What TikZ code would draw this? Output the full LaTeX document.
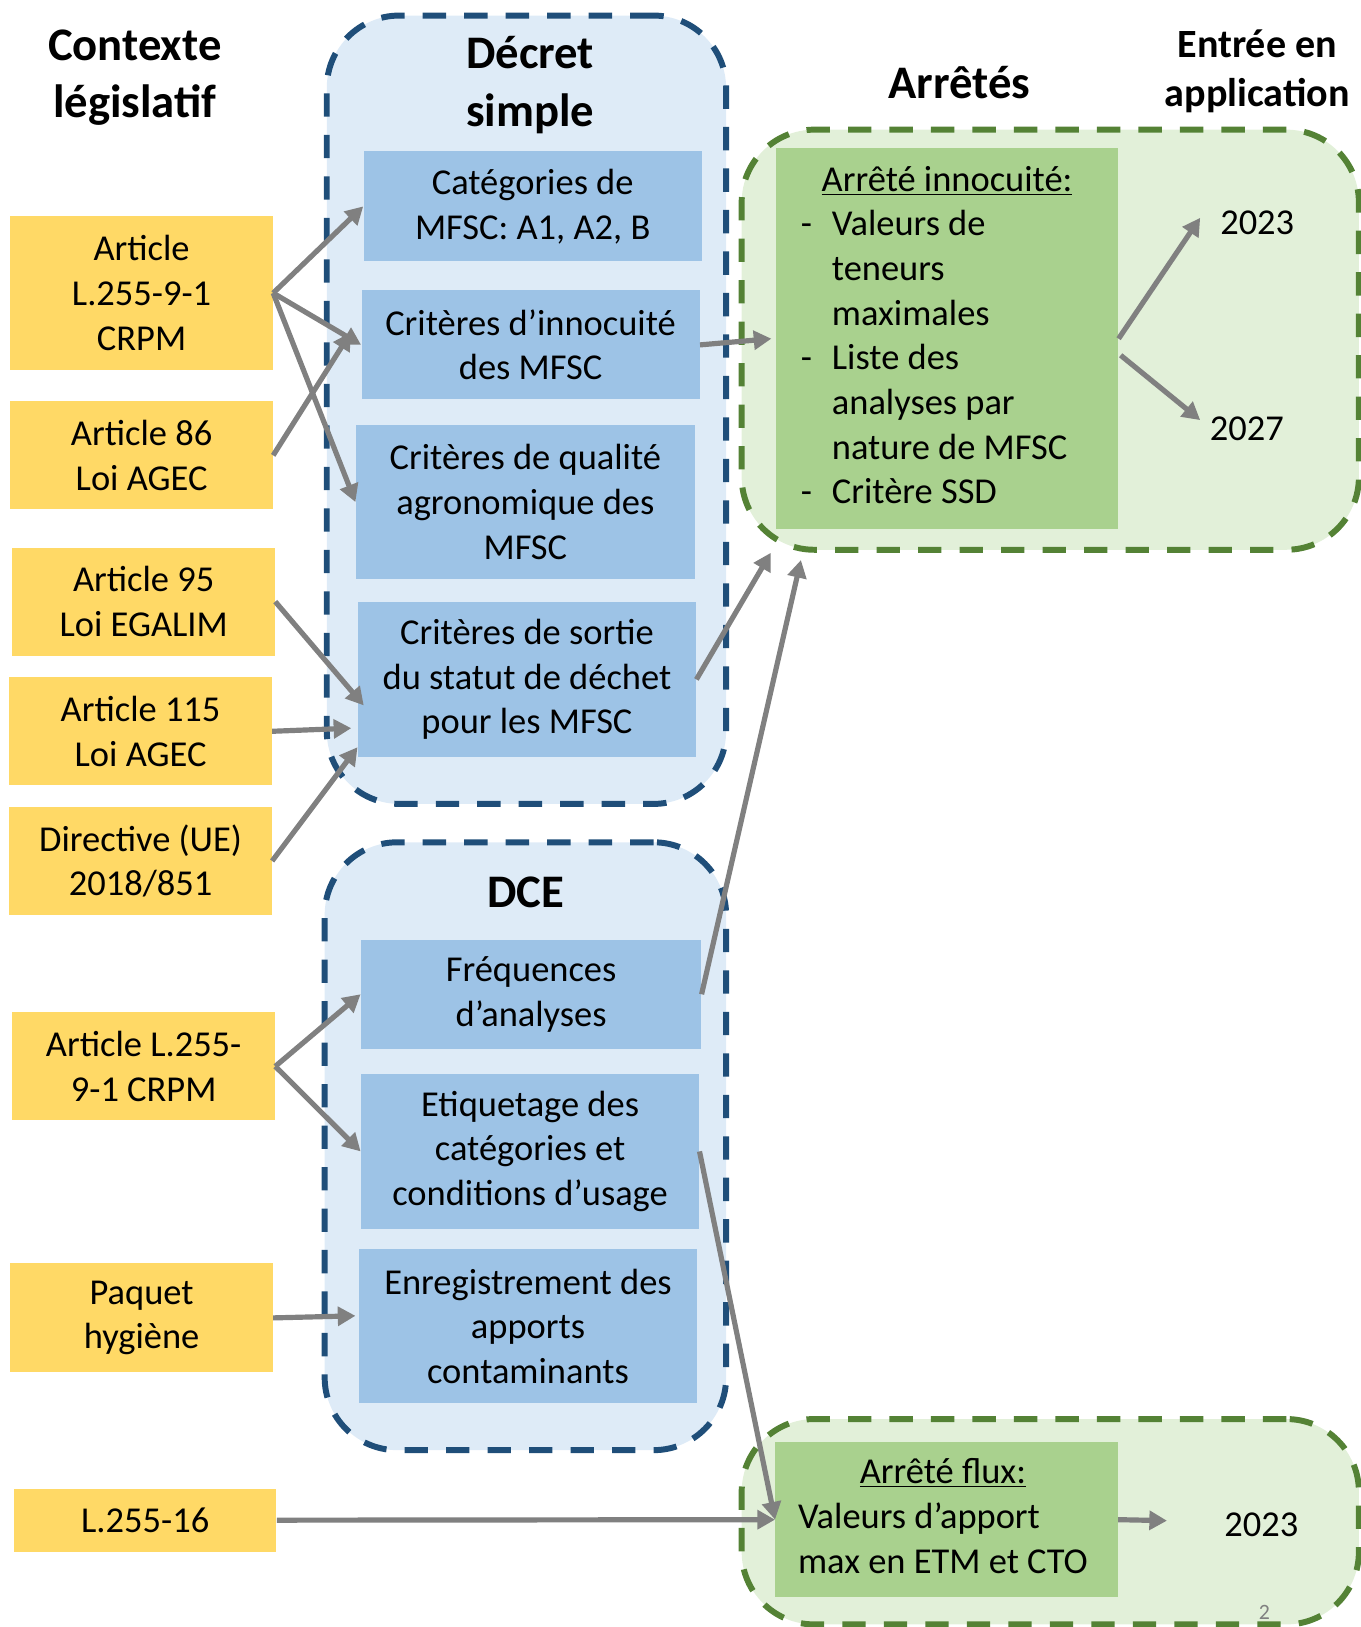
\documentclass[tikz,border=0pt]{standalone}
\usepackage{fontspec}
\setmainfont{Carlito}
\usetikzlibrary{arrows.meta,calc}

\definecolor{lawyellow}{RGB}{255,217,102}
\definecolor{mfscblue}{RGB}{157,195,230}
\definecolor{groupblue}{RGB}{222,235,247}
\definecolor{edgeblue}{RGB}{31,78,121}
\definecolor{arrgreen}{RGB}{169,209,142}
\definecolor{groupgreen}{RGB}{226,240,217}
\definecolor{edgegreen}{RGB}{84,130,53}
\definecolor{arrowgray}{RGB}{128,128,128}

\tikzset{
  txt/.style={font=\fontsize{20pt}{24.5pt}\selectfont},
  hdr/.style={font=\fontsize{25.6pt}{31.3pt}\selectfont\bfseries, align=center},
  law/.style={txt, fill=lawyellow, minimum width=50.6mm, align=center, inner sep=0pt},
  mfsc/.style={txt, fill=mfscblue, minimum width=65.2mm, align=center, inner sep=0pt},
  arrbox/.style={txt, fill=arrgreen, minimum width=66mm, inner sep=0pt},
  grpblue/.style={draw=edgeblue, fill=groupblue, line width=1.15mm, dash pattern=on 4.5mm off 3.5mm, rounded corners=14mm},
  grpgreen/.style={draw=edgegreen, fill=groupgreen, line width=1.15mm, dash pattern=on 4.5mm off 3.5mm, rounded corners=14mm},
  arr/.style={draw=arrowgray, line width=1mm, -{Triangle[length=3.4mm,width=3.6mm]}}
}

\begin{document}
\begin{tikzpicture}[x=0.2mm, y=-0.2mm]
\useasboundingbox (0,0) rectangle (1312,1568.5);

% groups
\node[grpblue, minimum width=77mm, minimum height=152mm] (decret) at (507.5,395) {};
\node[grpblue, minimum width=77.4mm, minimum height=117.2mm] (dce) at (506.5,1105) {};
\node[grpgreen, minimum width=119mm, minimum height=81mm] (grpinno) at (1012.5,327.5) {};
\node[grpgreen, minimum width=119mm, minimum height=39.6mm] (grpflux) at (1012.5,1467) {};

% headings
\node[hdr] (hctx) at (130,75) {Contexte\\législatif};
\node[hdr] (hdec) at (511,82) {Décret\\simple};
\node[hdr] (harr) at (925,80) {Arrêtés};
\node[hdr, font=\fontsize{22pt}{27pt}\selectfont\bfseries] (happ) at (1212,69) {Entrée en\\application};
\node[hdr] (hdce) at (507,860) {DCE};

% legislative context
\node[law, minimum height=29.8mm] (lg1) at (136.5,282.5) {Article\\L.255-9-1\\CRPM};
\node[law, minimum height=20.8mm] (lg2) at (136.5,439) {Article 86\\Loi AGEC};
\node[law, minimum height=20.8mm] (lg3) at (138.5,580) {Article 95\\Loi EGALIM};
\node[law, minimum height=20.8mm] (lg4) at (135.5,705) {Article 115\\Loi AGEC};
\node[law, minimum height=20.8mm] (lg5) at (135.5,830) {Directive (UE)\\2018/851};
\node[law, minimum height=20.8mm] (lg6) at (138.5,1028) {Article L.255-\\9-1 CRPM};
\node[law, minimum height=21mm] (lg7) at (136.5,1270.5) {Paquet\\hygiène};
\node[law, minimum height=12.2mm] (lg8) at (140,1465.5) {L.255-16};

% decret / DCE items
\node[mfsc, minimum height=21.2mm] (cat) at (513.5,199) {Catégories de\\MFSC: A1, A2, B};
\node[mfsc, minimum height=21mm] (inno) at (511.5,332.5) {Critères d’innocuité\\des MFSC};
\node[mfsc, minimum height=29.6mm, minimum width=65.4mm] (qual) at (506.5,484) {Critères de qualité\\agronomique des\\MFSC};
\node[mfsc, minimum height=30mm] (sortie) at (508,655) {Critères de sortie\\du statut de déchet\\pour les MFSC};
\node[mfsc, minimum height=21mm, minimum width=65.6mm] (freq) at (512,958.5) {Fréquences\\d’analyses};
\node[mfsc, minimum height=30mm] (etiq) at (511,1110) {Etiquetage des\\catégories et\\conditions d’usage};
\node[mfsc, minimum height=29.8mm] (enreg) at (509,1278.5) {Enregistrement des\\apports\\contaminants};

% arretes
\node[arrbox, minimum height=73.4mm] (innoc) at (913,326.5) {\begin{tabular}{@{}p{6mm}@{}p{50.4mm}@{}}
\multicolumn{2}{@{}c@{}}{\underline{Arrêté innocuité:}}\\
- & Valeurs de\\
  & teneurs\\
  & maximales\\
- & Liste des\\
  & analyses par\\
  & nature de MFSC\\
- & Critère SSD
\end{tabular}};
\node[arrbox, minimum height=30mm] (flux) at (912.5,1465) {\begin{tabular}{@{}l@{\hspace{1.4mm}}}
\multicolumn{1}{@{}c@{\hspace{1.4mm}}}{\underline{Arrêté flux:}}\\
Valeurs d’apport\\
max en ETM et CTO
\end{tabular}};

% years
\node[txt, inner sep=0pt] (y2023a) at (1212,215) {2023};
\node[txt, inner sep=0pt] (y2027) at (1202,413) {2027};
\node[txt, inner sep=0pt] (y2023b) at (1216,1470) {2023};
\node[font=\fontsize{12pt}{14pt}\selectfont, text=arrowgray, inner sep=0pt] (pnum) at (1219,1554) {2};

% arrows
\draw[arr] (lg1.east) -- (cat.west);
\draw[arr] (lg1.east) -- (inno.west);
\draw[arr] (lg1.east) -- (qual.west);
\draw[arr] (lg2.east) -- ($(inno.west)+(-10,-12)$);
\draw[arr] (lg3.east) -- ($(sortie.west)+(6,25)$);
\draw[arr] (lg4.east) -- ($(sortie.west)+(-6,47)$);
\draw[arr] (lg5.east) -- ($(sortie.south west)+(0,-10)$);
\draw[arr] (lg6.east) -- (freq.west);
\draw[arr] (lg6.east) -- (etiq.west);
\draw[arr] (lg7.east) -- ($(enreg.west)+(-3,-10)$);
\draw[arr] (lg8.east) -- (flux.west);
\draw[arr] (inno.east) -- ($(innoc.west)+(-4,0)$);
\draw[arr] (sortie.east) -- ($(grpinno.south west)+(31,0)$);
\draw[arr] (freq.east) -- ($(grpinno.south west)+(60,7)$);
\draw[arr] (etiq.east) -- (flux.west);
\draw[arr] (innoc.east) -- ($(y2023a.west)+(-19,-5)$);
\draw[arr] ($(innoc.east)+(2,16)$) -- ($(y2027.west)+(-9,-8)$);
\draw[arr] (flux.east) -- ($(y2023b.west)+(-55,-4)$);
\end{tikzpicture}
\end{document}
